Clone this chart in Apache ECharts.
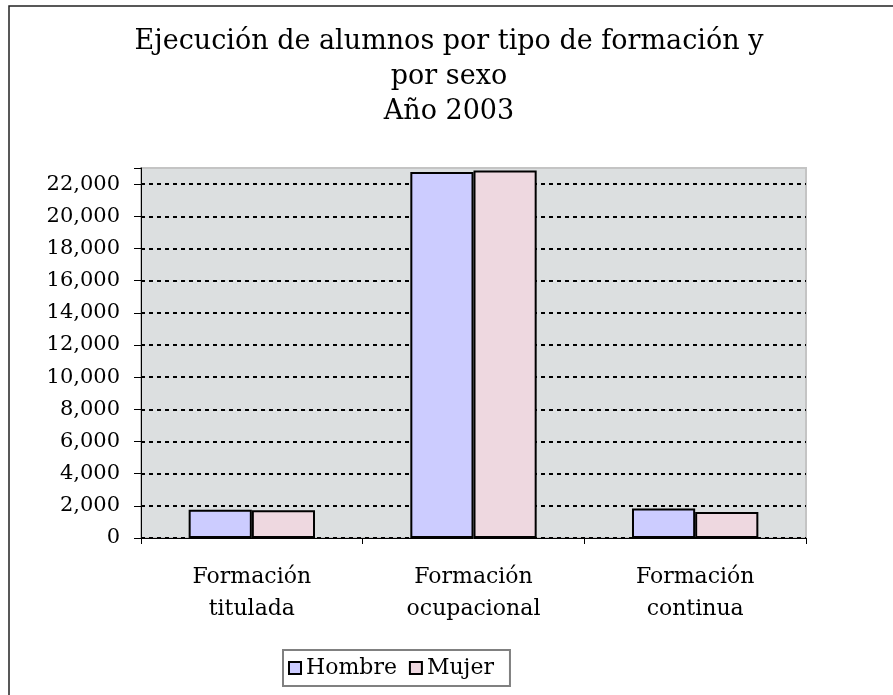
<!DOCTYPE html>
<html>
<head>
<meta charset="utf-8">
<script src="https://cdn.jsdelivr.net/npm/echarts@6/dist/echarts.min.js"></script>
<style>
  html, body { margin: 0; padding: 0; background: #fff; }
  #chart { width: 893px; height: 695px; }
</style>
</head>
<body>
<div id="chart"></div>
<script>
const categories = ['Formación\ntitulada', 'Formación\nocupacional', 'Formación\ncontinua'];
const hombre = [1760, 22750, 1840];
const mujer = [1720, 22850, 1620];
const titleLines = 'Ejecución de alumnos por tipo de formación y\npor sexo\nAño 2003';

const font = 'DejaVu Serif';
const chart = echarts.init(document.getElementById('chart'));

// dotted grid lines, none on the top edge (23,000)
const gridColors = [];
for (let i = 0; i < 12; i++) gridColors.push('#000');
gridColors.push('rgba(0,0,0,0)');

const option = {
    backgroundColor: '#fff',
    animation: false,
    graphic: [
        {
            type: 'rect',
            shape: { x: 9, y: 6, width: 1000, height: 1000 },
            style: { fill: 'none', stroke: '#222', lineWidth: 1.5 },
            z: -1
        },
        {
            type: 'text',
            x: 449,
            y: 24,
            style: {
                text: titleLines,
                font: '27px "' + font + '"',
                fill: '#000',
                textAlign: 'center',
                lineHeight: 35
            }
        }
    ],
    legend: {
        left: 283,
        top: 650,
        orient: 'horizontal',
        icon: 'rect',
        itemWidth: 12,
        itemHeight: 12,
        itemGap: 12,
        padding: [7, 16, 7, 5],
        backgroundColor: '#fff',
        borderColor: '#808080',
        borderWidth: 2,
        borderRadius: 0,
        textStyle: { fontFamily: font, fontSize: 22, color: '#000' },
        itemStyle: { borderColor: '#000', borderWidth: 2 }
    },
    grid: {
        left: 141,
        top: 168,
        right: 87,
        bottom: 157,
        show: true,
        backgroundColor: '#dcdfe0',
        borderColor: '#c4c4c4',
        borderWidth: 2
    },
    xAxis: {
        type: 'category',
        data: categories,
        axisLine: { lineStyle: { color: '#000', width: 1 } },
        axisTick: { show: true, length: 6, lineStyle: { color: '#000' } },
        axisLabel: {
            fontFamily: font,
            fontSize: 22,
            color: '#000',
            lineHeight: 32,
            margin: 23
        }
    },
    yAxis: {
        type: 'value',
        min: 0,
        max: 23000,
        interval: 2000,
        axisLine: { show: true, lineStyle: { color: '#000', width: 1 } },
        axisTick: { show: true, length: 7, lineStyle: { color: '#000' } },
        axisLabel: {
            fontFamily: font,
            fontSize: 21,
            color: '#000',
            margin: 21,
            formatter: function (v) {
                if (v % 2000 !== 0) return '';
                return v.toLocaleString('en-US');
            }
        },
        splitLine: {
            show: true,
            showMaxLine: false,
            lineStyle: { color: gridColors, width: 2, type: [4, 4] }
        }
    },
    series: [
        {
            name: 'Hombre',
            type: 'bar',
            data: hombre,
            barGap: '0%',
            barCategoryGap: '43%',
            itemStyle: { color: '#ccccff', borderColor: '#000', borderWidth: 2 }
        },
        {
            name: 'Mujer',
            type: 'bar',
            data: mujer,
            itemStyle: { color: '#eed8e0', borderColor: '#000', borderWidth: 2 }
        }
    ]
};

chart.setOption(option);
</script>
</body>
</html>
